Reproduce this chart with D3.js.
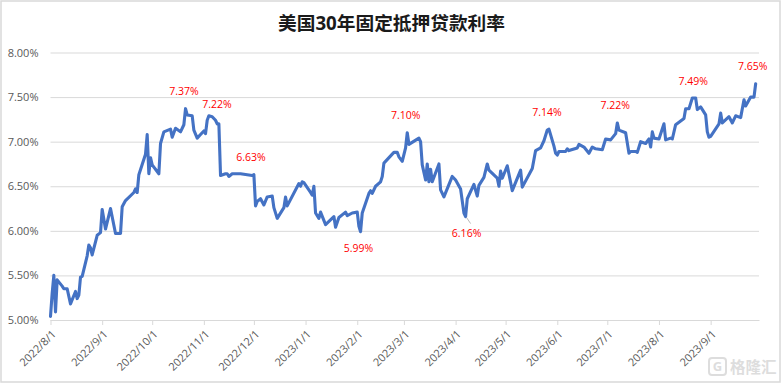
<!DOCTYPE html>
<html>
<head>
<meta charset="utf-8">
<script src="https://cdn.jsdelivr.net/npm/d3@7"></script>
<style>
    html, body {margin: 0; padding: 0; background: #fff;}
    svg {display: block;}
    text {font-family: "Open Sans", "Noto Sans CJK SC", sans-serif;}
</style>
</head>
<body>
<svg></svg>
<script>
const CHART_TITLE = '美国30年固定抵押贷款利率';
const START_DATE = new Date(2022, 7, 1);
const TICK_MONTHS = ['2022/8/1', '2022/9/1', '2022/10/1', '2022/11/1', '2022/12/1', '2023/1/1', '2023/2/1',
    '2023/3/1', '2023/4/1', '2023/5/1', '2023/6/1', '2023/7/1', '2023/8/1', '2023/9/1'];
const RATE_TICKS = [5, 5.5, 6, 6.5, 7, 7.5, 8];

// days since 2022/8/1
const DAYS = [0, 1, 2, 3, 4, 7, 8, 10, 12, 15, 16, 17, 18, 19, 22, 23, 24, 25, 28, 30, 31, 33, 36, 39, 42, 43, 45, 50, 51, 52, 53,
    57, 58, 59, 60, 61, 65, 66, 68, 72, 73, 75, 78, 80, 81, 82, 85, 86, 88, 90, 92, 93, 94, 95, 97, 99, 100, 101, 102, 105, 106, 107, 109, 114, 121, 122, 123, 124,
    126, 128, 130, 133, 134, 136, 140, 141, 142, 149, 150, 151, 152, 156, 157, 158, 159, 161, 162, 165, 170, 171, 173, 177, 178, 181, 184, 185, 186, 187,
    191, 192, 193, 195, 198, 199, 200, 205, 206, 208, 209, 211, 213, 214, 215, 221, 222, 223, 225, 226, 227, 228, 229, 233, 234, 236, 241, 243, 246, 248, 249,
    250, 254, 256, 257, 260, 262, 263, 268, 269, 270, 271, 274, 277, 282, 283,
    289, 291, 294, 296, 298, 299, 302, 303, 304, 305, 309, 310, 311, 316, 317, 320, 323, 325, 327, 331, 333, 336, 339, 340, 341, 345, 347, 348, 351, 352, 354, 357, 359, 360, 361, 362, 365,
    368, 369, 372, 373, 375, 380, 381, 383, 385, 387, 388, 390, 393, 394, 395, 396, 401, 402, 403, 407, 409, 411, 414, 416, 417, 420, 422, 423];
const RATES = [5.04, 5.30, 5.50, 5.09, 5.45, 5.38, 5.35, 5.35, 5.18, 5.32, 5.24, 5.28, 5.48, 5.49, 5.72, 5.84, 5.81, 5.73, 5.95, 5.98, 6.24, 6.02, 6.25, 5.97, 5.97, 6.27, 6.34, 6.43, 6.47, 6.43, 6.63,
    6.86, 7.08, 6.64, 6.82, 6.74, 6.64, 6.98, 7.11, 7.14, 7.05, 7.15, 7.11, 7.19, 7.37, 7.30, 7.29, 7.13, 7.04, 7.08, 7.12, 7.09, 7.24, 7.29, 7.28, 7.24, 7.20, 7.20, 6.62, 6.64, 6.64, 6.61, 6.64, 6.64, 6.62, 6.63, 6.28, 6.33,
    6.36, 6.29, 6.38, 6.39, 6.26, 6.14, 6.26, 6.38, 6.28, 6.53, 6.50, 6.55, 6.54, 6.43, 6.40, 6.50, 6.20, 6.14, 6.21, 6.07, 6.16, 6.04, 6.15, 6.21, 6.17, 6.20, 6.21, 6.05, 5.99, 6.20,
    6.42, 6.45, 6.42, 6.50, 6.55, 6.61, 6.76, 6.86, 6.88, 6.88, 6.83, 6.78, 6.93, 7.10, 6.97, 7.04, 7.00, 6.74, 6.57, 6.75, 6.55, 6.69, 6.55, 6.75, 6.46, 6.38, 6.61, 6.57, 6.47, 6.20, 6.16,
    6.36, 6.52, 6.39, 6.51, 6.60, 6.75, 6.68, 6.59, 6.50, 6.67, 6.59, 6.73, 6.45, 6.68, 6.49,
    6.70, 6.90, 6.93, 7.01, 7.13, 7.14, 6.95, 6.87, 6.85, 6.89, 6.89, 6.92, 6.90, 6.93, 6.97, 6.94, 6.87, 6.94, 6.92, 6.91, 7.03, 7.02, 7.09, 7.21, 7.13, 7.10, 6.87, 6.89, 6.89, 6.88, 7.00, 6.98, 7.03, 6.94, 7.11, 7.04, 7.03,
    7.20, 7.02, 7.04, 7.03, 7.19, 7.26, 7.37, 7.37, 7.49, 7.49, 7.36, 7.39, 7.30, 7.11, 7.05, 7.06, 7.20, 7.32, 7.21, 7.28, 7.21, 7.29, 7.27, 7.47, 7.40, 7.50, 7.50, 7.65];

// red callouts: which day they belong to and the printed text
const CALLOUT_DAYS = [81, 95, 122, 186, 214, 249, 299, 340, 385, 423];
const CALLOUT_TEXTS = ['7.37%', '7.22%', '6.63%', '5.99%', '7.10%', '6.16%', '7.14%', '7.22%', '7.49%', '7.65%'];

const WIDTH = 783;
const HEIGHT = 384;
const MARGINS = {top: 52.5, right: 24, bottom: 64, left: 50.5};

// where each callout sits relative to its point
const CALLOUT_OFFSETS = [[-1.5, -17], [8, -11], [-3, -17], [-2, 17], [-1.5, -17], [1, 17], [-2, -17], [-2, -18], [1, -17], [-3, -17]];

const svg = d3.select('svg').attr('width', WIDTH).attr('height', HEIGHT);

const dayToDate = day => d3.timeDay.offset(START_DATE, day);
const parseTick = d3.timeParse('%Y/%-m/%-d');

/* ************** SCALE ********************* */
const x = d3.scaleTime()
    .domain([START_DATE, new Date(2023, 8, 30)])
    .range([MARGINS.left, WIDTH - MARGINS.right]);
const y = d3.scaleLinear()
    .domain([5, 8])
    .range([HEIGHT - MARGINS.bottom, MARGINS.top]);

// frame of the pasted chart
svg.append('rect')
    .attr('x', 1).attr('y', 1)
    .attr('width', WIDTH - 4).attr('height', HEIGHT - 3)
    .attr('fill', '#fff')
    .attr('stroke', '#d9d9d9')
    .attr('stroke-width', 1.5);

svg.append('text')
    .attr('x', 391.5)
    .attr('y', 30)
    .attr('text-anchor', 'middle')
    .attr('font-size', 18.7)
    .attr('font-weight', 700)
    .attr('fill', '#1a1a1a')
    .text(CHART_TITLE);

/* ************** AXES ********************* */
const yAxis = svg.append('g')
    .attr('transform', `translate(${MARGINS.left}, 0)`)
    .call(d3.axisLeft(y)
        .tickValues(RATE_TICKS)
        .tickSize(-(WIDTH - MARGINS.left - MARGINS.right))
        .tickPadding(12)
        .tickFormat(d => d3.format('.2f')(d) + '%'));
yAxis.select('.domain').remove();
yAxis.selectAll('line').attr('stroke', '#d9d9d9').attr('stroke-width', 1);
yAxis.selectAll('text').attr('font-size', 11).attr('fill', '#595959').attr('font-family', 'Open Sans');

const xAxis = svg.append('g')
    .attr('transform', `translate(0, ${HEIGHT - MARGINS.bottom})`)
    .call(d3.axisBottom(x)
        .tickValues(TICK_MONTHS.map(parseTick))
        .tickSize(5)
        .tickSizeOuter(0)
        .tickFormat(d3.timeFormat('%Y/%-m/%-d')));
xAxis.select('.domain').attr('stroke', '#d9d9d9');
xAxis.selectAll('line').attr('stroke', '#d9d9d9');
xAxis.selectAll('text')
    .attr('x', 0)
    .attr('y', 0)
    .attr('dy', '0.35em')
    .attr('font-size', 11)
    .attr('fill', '#595959')
    .attr('text-anchor', 'end')
    .attr('transform', 'translate(3, 12) rotate(-45)');

/* ************** LINE ********************* */
const points = DAYS.map((day, i) => ({day: day, date: dayToDate(day), rate: RATES[i]}));

const line = d3.line()
    .x(d => x(d.date))
    .y(d => y(d.rate));

svg.append('path')
    .datum(points)
    .attr('d', line)
    .attr('fill', 'none')
    .attr('stroke', '#4472c4')
    .attr('stroke-width', 3.1)
    .attr('stroke-linejoin', 'round')
    .attr('stroke-linecap', 'round');

/* ************** CALLOUTS ********************* */
const callouts = CALLOUT_DAYS.map((day, i) => ({
    date: dayToDate(day),
    rate: points.find(p => p.day === day).rate,
    text: CALLOUT_TEXTS[i],
    offset: CALLOUT_OFFSETS[i]
}));

svg.selectAll('.callout').data(callouts).enter()
    .append('text')
    .classed('callout', true)
    .attr('x', d => x(d.date) + d.offset[0])
    .attr('y', d => y(d.rate) + d.offset[1])
    .attr('dy', '0.35em')
    .attr('text-anchor', 'middle')
    .attr('font-size', 10.5)
    .attr('fill', '#ff0000')
    .text(d => d.text);

// small leader under the 6.16% point
const leader = callouts[5];
svg.append('line')
    .attr('x1', x(leader.date) + 1)
    .attr('y1', y(leader.rate) + 1)
    .attr('x2', x(leader.date) + 5)
    .attr('y2', y(leader.rate) + 7)
    .attr('stroke', '#a6a6a6')
    .attr('stroke-width', 0.8);

/* ************** WATERMARK ********************* */
const mark = svg.append('g').attr('opacity', 0.6);
mark.append('rect')
    .attr('x', 709).attr('y', 358)
    .attr('width', 17).attr('height', 17)
    .attr('rx', 3)
    .attr('fill', '#fff')
    .attr('stroke', '#c8c8c8')
    .attr('stroke-width', 2);
mark.append('text')
    .attr('x', 717.5).attr('y', 371)
    .attr('text-anchor', 'middle')
    .attr('font-size', 13)
    .attr('font-weight', 700)
    .attr('fill', '#c8c8c8')
    .text('G');
mark.append('text')
    .attr('x', 730).attr('y', 373)
    .attr('font-size', 15.5)
    .attr('font-weight', 700)
    .attr('fill', '#c8c8c8')
    .text('格隆汇');
</script>
</body>
</html>
